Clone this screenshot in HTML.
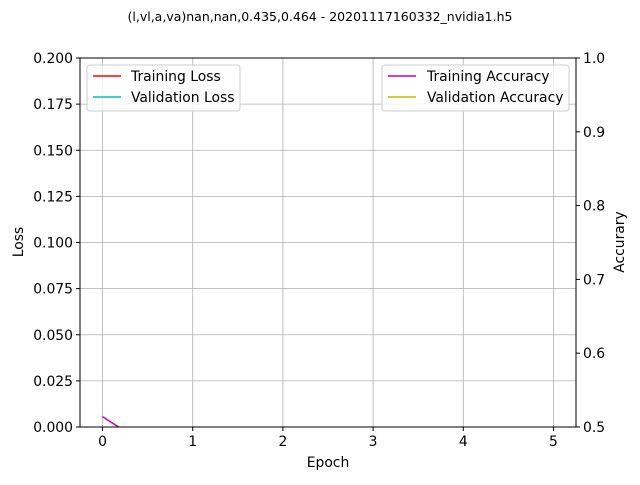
<!DOCTYPE html>
<html><head><meta charset="utf-8"><style>
body{margin:0;background:#fff;}
svg text{font-family:"DejaVu Sans","Liberation Sans",sans-serif;fill:#000;}
</style></head><body>
<svg id="chart" width="640" height="480" xmlns="http://www.w3.org/2000/svg">
<defs><clipPath id="plotclip"><rect x="80" y="58" width="496" height="369"/></clipPath></defs>
<rect width="640" height="480" fill="#fff"/>
<text x="320" y="21" font-size="12.5" text-anchor="middle">(l,vl,a,va)nan,nan,0.435,0.464 - 20201117160332_nvidia1.h5</text>
<g id="grid"></g>
<g id="series" clip-path="url(#plotclip)"></g>
<rect x="80" y="58" width="496" height="369" fill="none" stroke="#000" stroke-width="1"/>
<g id="axes"></g>
<text x="328" y="467" font-size="13.9" text-anchor="middle">Epoch</text>
<text transform="translate(23,242) rotate(-90)" font-size="13.9" text-anchor="middle">Loss</text>
<text transform="translate(624,242) rotate(-90)" font-size="13.9" text-anchor="middle">Accurary</text>
<g>
<rect x="87" y="65" width="153" height="46" rx="3" fill="#fff" fill-opacity="0.8" stroke="#ccc"/>
<line x1="93" y1="76" x2="121" y2="76" stroke="#ff0000" stroke-width="1.5"/>
<text x="131" y="81" font-size="13.9">Training Loss</text>
<line x1="93" y1="97" x2="121" y2="97" stroke="#00bfbf" stroke-width="1.5"/>
<text x="131" y="102" font-size="13.9">Validation Loss</text>
</g>
<g>
<rect x="382" y="65" width="187" height="46" rx="3" fill="#fff" fill-opacity="0.8" stroke="#ccc"/>
<line x1="388" y1="76" x2="416" y2="76" stroke="#bf00bf" stroke-width="1.5"/>
<text x="427" y="81" font-size="13.9">Training Accuracy</text>
<line x1="388" y1="97" x2="416" y2="97" stroke="#bfbf00" stroke-width="1.5"/>
<text x="427" y="102" font-size="13.9">Validation Accuracy</text>
</g>
</svg>
<script>
const epochs=[0,1];
const trainAcc=[0.514,0.435];
const valAcc=[0.45,0.464];
const xTicks=[0,1,2,3,4,5];
const lossTicks=["0.000","0.025","0.050","0.075","0.100","0.125","0.150","0.175","0.200"];
const accTicks=["0.5","0.6","0.7","0.8","0.9","1.0"];
const NS="http://www.w3.org/2000/svg";
const L=80,R=576,T=58,B=427;
const xs=v=>L+(v+0.25)/5.5*(R-L);
const yl=v=>B-v/0.2*(B-T);
const ya=v=>B-(v-0.5)/0.5*(B-T);
function mk(tag,at,parent){const e=document.createElementNS(NS,tag);for(const k in at)e.setAttribute(k,at[k]);parent.appendChild(e);return e;}
const grid=document.getElementById('grid'),axes=document.getElementById('axes'),ser=document.getElementById('series');
xTicks.forEach(t=>{const x=xs(t);
 const g=mk('line',{x1:x,x2:x,y1:T,y2:B,stroke:'#b0b0b0','stroke-width':0.8},grid);
 
 
 mk('line',{x1:x,x2:x,y1:B,y2:B+4,stroke:'#000'},axes);
 const tx=mk('text',{x:x,y:B+19,'font-size':13.9,'text-anchor':'middle'},axes);tx.textContent=t;
 
 });
lossTicks.forEach(t=>{const y=yl(+t);
 const g=mk('line',{x1:L,x2:R,y1:y,y2:y,stroke:'#b0b0b0','stroke-width':0.8},grid);
 
 
 mk('line',{x1:L-4,x2:L,y1:y,y2:y,stroke:'#000'},axes);
 const tx=mk('text',{x:L-7,y:y+5,'font-size':13.9,'text-anchor':'end'},axes);tx.textContent=t;
 
 });
accTicks.forEach(t=>{const y=ya(+t);
 mk('line',{x1:R,x2:R+4,y1:y,y2:y,stroke:'#000'},axes);
 const tx=mk('text',{x:R+7,y:y+5,'font-size':13.9},axes);tx.textContent=t;
 
 });
function line(vals,color,name){const p=mk('polyline',{points:vals.map((v,i)=>xs(epochs[i])+','+ya(v)).join(' '),fill:'none',stroke:color,'stroke-width':1.5},ser);
 
 }
line(valAcc,'#bfbf00','validation-accuracy-line');
line(trainAcc,'#bf00bf','training-accuracy-line');
</script>
</body></html>
